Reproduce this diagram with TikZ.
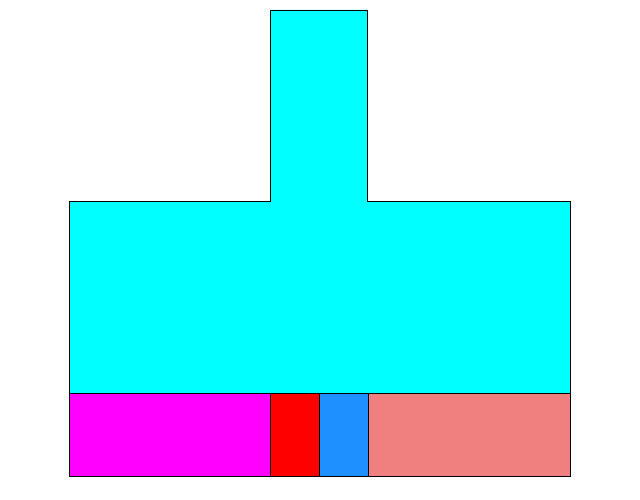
\documentclass[tikz,border=0pt]{standalone}
\usepackage{xcolor}
\usepackage{tikz}
\definecolor{cyanx}{HTML}{00FFFF}
\definecolor{magentax}{HTML}{FF00FF}
\definecolor{redx}{HTML}{FF0000}
\definecolor{bluex}{HTML}{1E90FF}
\definecolor{coralx}{HTML}{F08080}
\tikzset{
  part/.style={draw=black,line width=0.9pt,line join=miter}
}
\begin{document}
\begin{tikzpicture}[x=1pt,y=-1pt]
\useasboundingbox (0,0) rectangle (640,500);
\def\yT{393.5} \def\yB{476}
% T-shaped upper part
\draw[part,fill=cyanx] (69,\yT)--(69,201.5)--(270,201.5)--(270,10)--(367.5,10)
  --(367.5,201.5)--(570,201.5)--(570,\yT)--cycle;
% bottom row
\draw[part,fill=magentax] (69,\yT) rectangle (270.5,\yB);
\draw[part,fill=redx] (270.5,\yT) rectangle (319.5,\yB);
\draw[part,fill=bluex] (319.5,\yT) rectangle (368,\yB);
\draw[part,fill=coralx] (368,\yT) rectangle (570,\yB);
\end{tikzpicture}
\end{document}
